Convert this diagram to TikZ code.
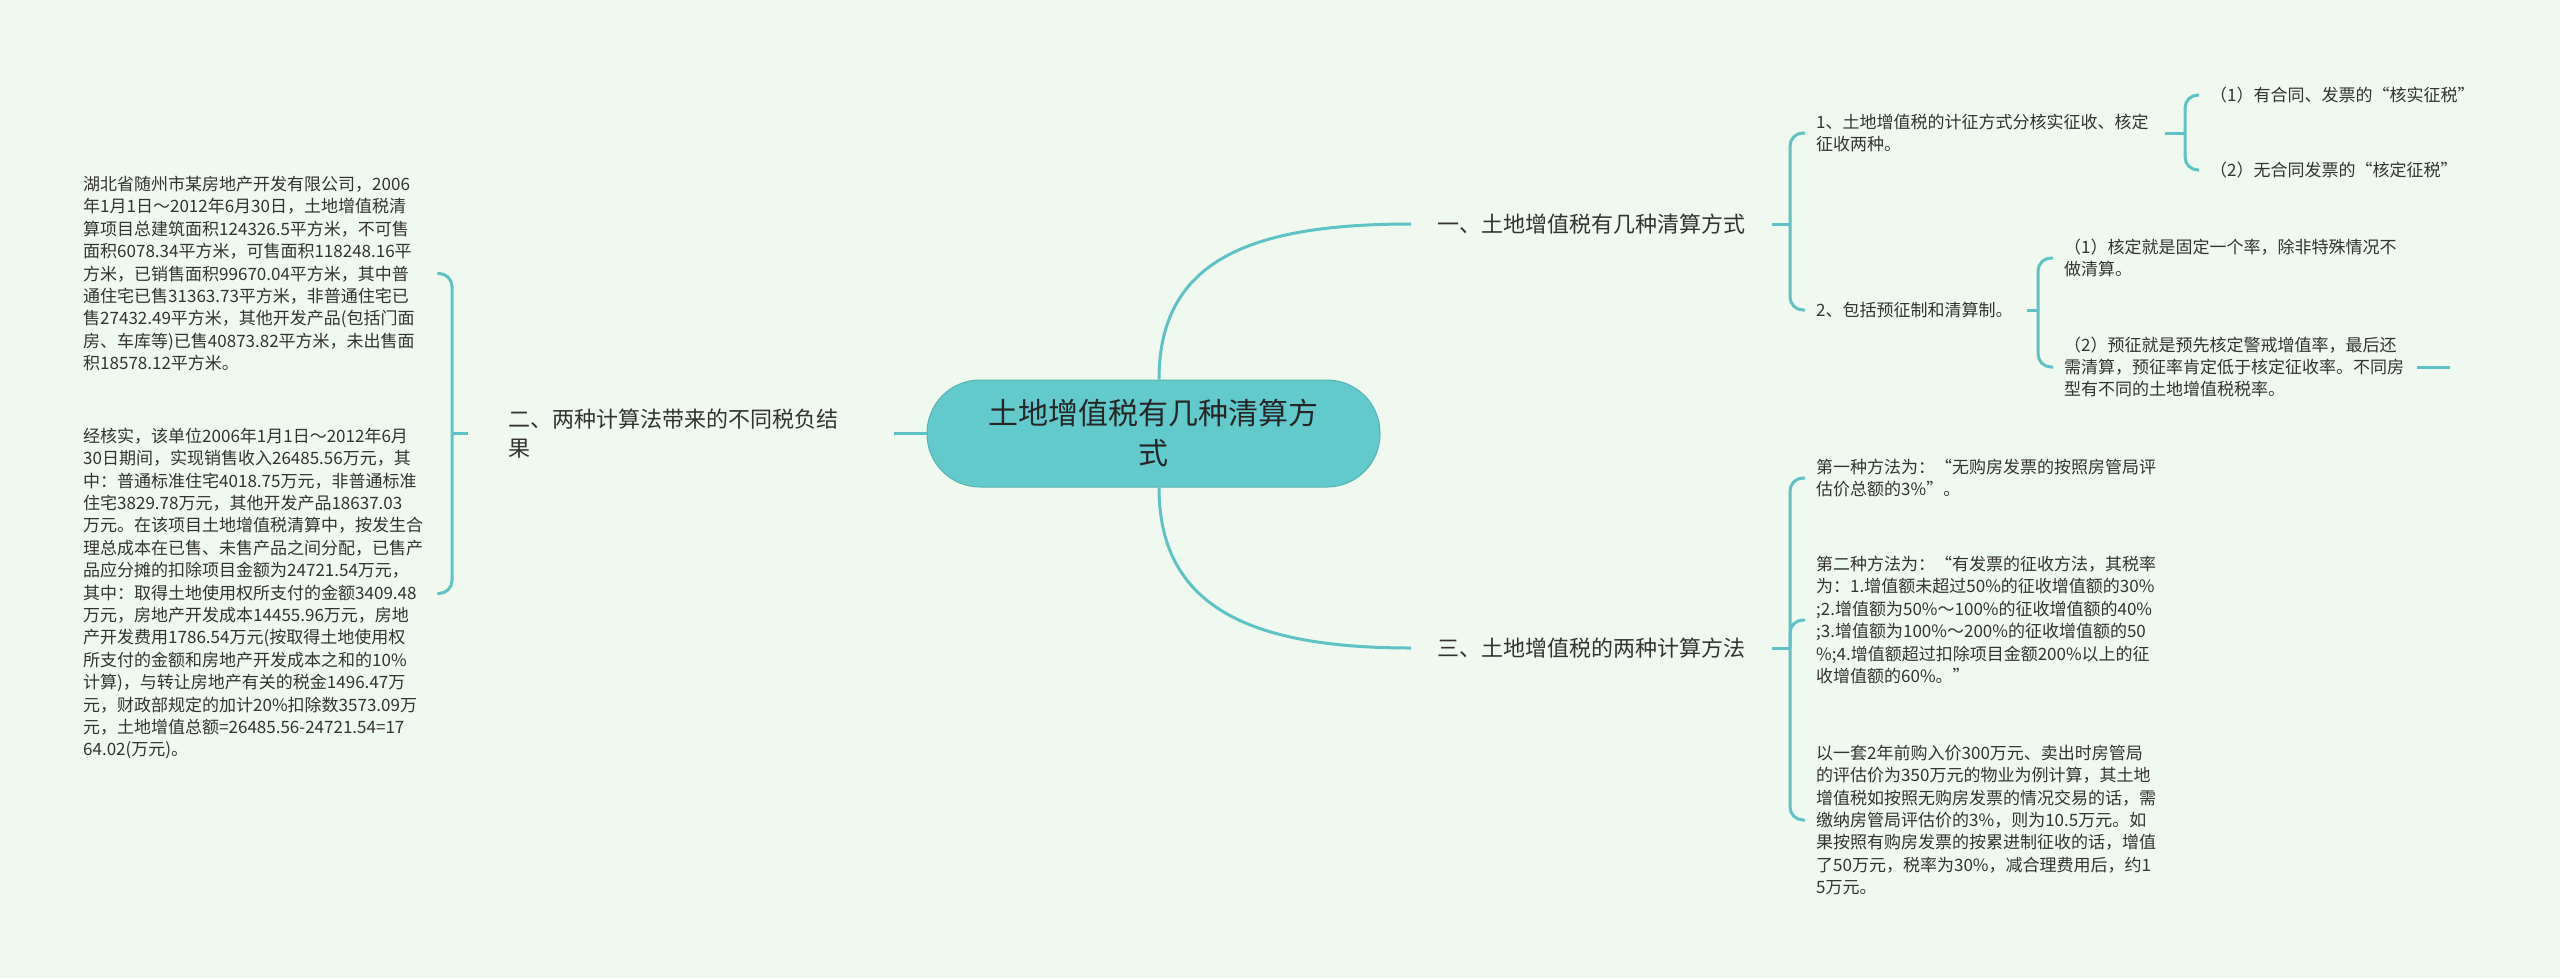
\documentclass[tikz,border=0pt]{standalone}
\usepackage{fontspec}
\setmainfont{Noto Sans CJK SC}
\definecolor{bg}{HTML}{F0F9EF}
\definecolor{linec}{HTML}{5FC3C5}
\definecolor{pillc}{HTML}{63CACC}
\definecolor{txt}{HTML}{333333}
\begin{document}
\begin{tikzpicture}[x=1pt,y=-1pt,
  conn/.style={draw=linec,line width=3pt},
  br/.style={conn,rounded corners=13pt},
  leaf/.style={anchor=west,inner sep=0pt,align=left,text=txt,font=\fontsize{17}{22.4}\selectfont},
  branch/.style={anchor=west,inner sep=0pt,align=left,text=txt,font=\fontsize{22}{28.5}\selectfont}]
\fill[bg] (0,0) rectangle (2560,978);
\useasboundingbox (0,0) rectangle (2560,978);

% central topic
\node[fill=pillc,draw=pillc!88!black,line width=1pt,rounded corners=53pt,minimum width=453pt,minimum height=107pt,inner sep=0pt,align=center,text=black!85,font=\fontsize{30}{40}\selectfont] (c) at (1153.5,433.5) {土地增值税有几种清算方\\式};

% main branches
\node[branch] (b1) at (1437,224) {一、土地增值税有几种清算方式};
\node[branch] (b3) at (1437,648) {三、土地增值税的两种计算方法};
\node[branch,text width=360pt] (b2) at (508,433.5) {二、两种计算法带来的不同税负结\\果};

% left leaves
\node[leaf,text width=354pt] (L1) at (83,273.5) {湖北省随州市某房地产开发有限公司，2006\\年1月1日～2012年6月30日，土地增值税清\\算项目总建筑面积124326.5平方米，不可售\\面积6078.34平方米，可售面积118248.16平\\方米，已销售面积99670.04平方米，其中普\\通住宅已售31363.73平方米，非普通住宅已\\售27432.49平方米，其他开发产品(包括门面\\房、车库等)已售40873.82平方米，未出售面\\积18578.12平方米。};
\node[leaf,text width=354pt] (L2) at (83,593.5) {经核实，该单位2006年1月1日～2012年6月\\30日期间，实现销售收入26485.56万元，其\\中：普通标准住宅4018.75万元，非普通标准\\住宅3829.78万元，其他开发产品18637.03\\万元。在该项目土地增值税清算中，按发生合\\理总成本在已售、未售产品之间分配，已售产\\品应分摊的扣除项目金额为24721.54万元，\\其中：取得土地使用权所支付的金额3409.48\\万元，房地产开发成本14455.96万元，房地\\产开发费用1786.54万元(按取得土地使用权\\所支付的金额和房地产开发成本之和的10\%\\计算)，与转让房地产有关的税金1496.47万\\元，财政部规定的加计20\%扣除数3573.09万\\元，土地增值总额=26485.56-24721.54=17\\64.02(万元)。};

% right leaves
\node[leaf] (R1) at (1816,133) {1、土地增值税的计征方式分核实征收、核定\\征收两种。};
\node[leaf] (R2) at (1816,310) {2、包括预征制和清算制。};
\node[leaf] (R1a) at (2210,95) {（1）有合同、发票的“核实征税”};
\node[leaf] (R1b) at (2210,170) {（2）无合同发票的“核定征税”};
\node[leaf] (R2a) at (2064,258) {（1）核定就是固定一个率，除非特殊情况不\\做清算。};
\node[leaf] (R2b) at (2064,367) {（2）预征就是预先核定警戒增值率，最后还\\需清算，预征率肯定低于核定征收率。不同房\\型有不同的土地增值税税率。};
\node[leaf] (R3a) at (1816,478) {第一种方法为：“无购房发票的按照房管局评\\估价总额的3\%”。};
\node[leaf] (R3b) at (1816,620) {第二种方法为：“有发票的征收方法，其税率\\为：1.增值额未超过50\%的征收增值额的30\%\\;2.增值额为50\%～100\%的征收增值额的40\%\\;3.增值额为100\%～200\%的征收增值额的50\\\%;4.增值额超过扣除项目金额200\%以上的征\\收增值额的60\%。”};
\node[leaf] (R3c) at (1816,820) {以一套2年前购入价300万元、卖出时房管局\\的评估价为350万元的物业为例计算，其土地\\增值税如按照无购房发票的情况交易的话，需\\缴纳房管局评估价的3\%，则为10.5万元。如\\果按照有购房发票的按累进制征收的话，增值\\了50万元，税率为30\%，减合理费用后，约1\\5万元。};

% connectors from centre
\draw[conn] ([xshift=5.5pt]c.north) .. controls +(0,-120) and +(-160,0) .. ([xshift=-26pt]b1.west);
\draw[conn] ([xshift=5.5pt]c.south) .. controls +(0,120) and +(-160,0) .. ([xshift=-26pt]b3.west);
\draw[conn] (c.west) -- ([xshift=26pt]b2.east);

% left bracket
\coordinate (sL) at (452,433.5);
\draw[conn] ([xshift=-40pt]b2.west) -- (sL);
\draw[br] (sL) |- (L1.east);
\draw[br] (sL) |- (L2.east);

% branch 1 brackets
\coordinate (s1) at (1790,224);
\draw[conn] ([xshift=27pt]b1.east) -- (s1);
\draw[br] (s1) |- ([xshift=-11pt]R1.west);
\draw[br] (s1) |- ([xshift=-11pt]R2.west);

\coordinate (s11) at (2185,133);
\draw[conn] ([xshift=16pt]R1.east) -- (s11);
\draw[br] (s11) |- ([xshift=-11pt]R1a.west);
\draw[br] (s11) |- ([xshift=-11pt]R1b.west);

\coordinate (s12) at (2038,310);
\draw[conn] ([xshift=14pt]R2.east) -- (s12);
\draw[br] (s12) |- ([xshift=-11pt]R2a.west);
\draw[br] (s12) |- ([xshift=-11pt]R2b.west);

\coordinate (e2b) at (2450,367);
\draw[conn] ([xshift=13pt]R2b.east) -- (e2b);

% branch 3 bracket
\coordinate (s3) at (1790,648);
\draw[conn] ([xshift=27pt]b3.east) -- (s3);
\draw[br] (s3) |- ([xshift=-11pt]R3a.west);
\draw[br] (s3) |- ([xshift=-11pt]R3b.west);
\draw[br] (s3) |- ([xshift=-11pt]R3c.west);
\end{tikzpicture}
\end{document}
